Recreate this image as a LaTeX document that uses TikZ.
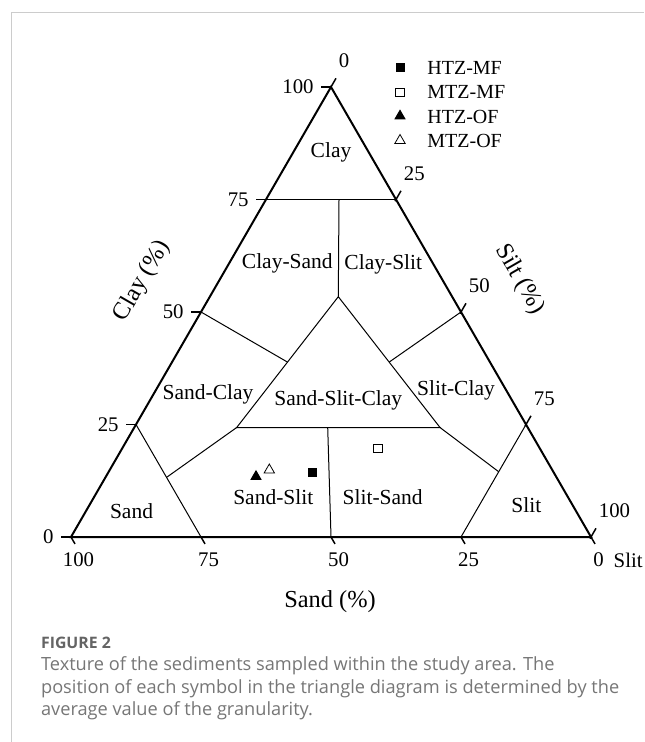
\documentclass[tikz,border=0pt]{standalone}
\usepackage{fontspec}
\setmainfont{Liberation Serif}
\newfontfamily\capsans{Open Sans}
\usetikzlibrary{calc,shapes.geometric}
\definecolor{framegray}{RGB}{204,204,204}
\definecolor{capgray}{RGB}{118,118,118}
\definecolor{figgray}{RGB}{100,100,100}
\tikzstyle{side} = [line width=1pt]
\tikzstyle{border} = [line width=0.5pt]
\tikzstyle{tickmark} = [line width=0.75pt]
\tikzstyle{zone} = [font=\fontsize{10.75}{12}\selectfont, inner sep=0pt]
\tikzstyle{ticklabel} = [font=\fontsize{10.4}{12}\selectfont, inner sep=0pt]
\tikzstyle{legendtext} = [font=\fontsize{10}{12}\selectfont, inner sep=0pt, anchor=west]
\tikzstyle{axistitle} = [font=\fontsize{12.2}{14}\selectfont, inner sep=0pt]
\tikzstyle{fullsq} = [rectangle, fill=black, minimum size=4.5pt, inner sep=0pt]
\tikzstyle{opensq} = [rectangle, draw=black, fill=white, line width=0.4pt, minimum size=4.2pt, inner sep=0pt]
\tikzstyle{fulltri} = [regular polygon, regular polygon sides=3, fill=black, minimum size=6.6pt, inner sep=0pt]
\tikzstyle{opentri} = [regular polygon, regular polygon sides=3, draw=black, line width=0.4pt, minimum size=6pt, inner sep=0pt]
\tikzstyle{captext} = [font=\capsans\fontsize{9.1}{11}\selectfont, text=capgray, inner sep=0pt, anchor=base west]

\begin{document}
\begin{tikzpicture}[x=0.5pt, y=-0.5pt]
\useasboundingbox (0,0) rectangle (644,742);
% Frame
\draw[framegray, line width=0.6pt] (11.7,742) -- (11.7,12.3) -- (644,12.3);

% Corners
\coordinate (A) at (71,537);
\coordinate (B) at (591,537);
\coordinate (C) at (331,87);
\draw[side] (A) -- (B) -- (C) -- cycle;

% Ticks and scale labels
\foreach \v in {0,25,50,75,100} {
  \pgfmathsetmacro\f{\v/100}
  \coordinate (l\v) at ($(A)!\f!(C)$);
  \coordinate (r\v) at ($(C)!\f!(B)$);
  \coordinate (b\v) at ($(B)!\f!(A)$);
  \draw[tickmark] (l\v) -- ++(-10,0);
  \draw[tickmark] ($(r\v)+(-1,1.7)$) -- ++(6,-10.4);
  \draw[tickmark] (b\v) -- ++(4,6.9);
  \node[ticklabel, anchor=east] (lt\v) at ($(l\v)+(-17,0)$) {\v};
  \node[ticklabel, anchor=west] (rt\v) at ($(r\v)+(7.5,-26)$) {\v};
  \node[ticklabel] (bt\v) at ($(b\v)+(7.5,23)$) {\v};
}

% Class boundaries
\coordinate (T) at (339,199.5);
\coordinate (P) at (338.3,296.7);
\coordinate (Q) at (236.7,427.5);
\coordinate (R) at (440,427.5);
\coordinate (S) at (327.7,427.5);
\draw[border] (l75) -- (r25);
\draw[border] (T) -- (P);
\draw[border] (P) -- (Q) -- (R) -- cycle;
\draw[border] (l50) -- ($(P)!0.5!(Q)$);
\draw[border] (r50) -- ($(P)!0.5!(R)$);
\draw[border] (l25) -- (b75);
\draw[border] (r75) -- (b25);
\draw[border] (Q) -- ($(l25)!0.47!(b75)$);
\draw[border] (R) -- ($(b25)!0.58!(r75)$);
\draw[border] (S) -- (b50);

% Class names
\node[zone] (clay) at (331,152) {Clay};
\node[zone] (claysand) at (287.3,263.3) {Clay-Sand};
\node[zone] (clayslit) at (383.3,264) {Clay-Slit};
\node[zone] (sandclay) at (208,394) {Sand-Clay};
\node[zone] (mixed) at (338.3,400) {Sand-Slit-Clay};
\node[zone] (slitclay) at (456,390) {Slit-Clay};
\node[zone] (sand) at (131.5,511) {Sand};
\node[zone] (sandslit) at (273.3,496.7) {Sand-Slit};
\node[zone] (slitsand) at (382.7,496.7) {Slit-Sand};
\node[zone] (slit) at (526.3,505) {Slit};

% Axis titles
\node[axistitle, rotate=60] (claytitle) at (142,281) {Clay (\%)};
\node[axistitle, rotate=-60] (silttitle) at (519.5,279.5) {Silt (\%)};
\node[axistitle] (sandtitle) at (330,601.7) {Sand (\%)};
\node[ticklabel, anchor=west] (slitend) at (613.3,560) {Slit};

% Samples
\node[fulltri] (htzof) at (256,476.5) {};
\node[opentri] (mtzof) at (269.3,470) {};
\node[fullsq] (htzmf) at (312.3,472.3) {};
\node[opensq] (mtzmf) at (377.7,448.3) {};

% Legend
\node[fullsq] (key1) at (400,68) {};
\node[opensq] (key2) at (400,92.3) {};
\node[fulltri] (key3) at (400,116) {};
\node[opentri] (key4) at (400,140.5) {};
\node[legendtext] (txt1) at (427,68) {HTZ-MF};
\node[legendtext] (txt2) at (427,92.3) {MTZ-MF};
\node[legendtext] (txt3) at (427,116.6) {HTZ-OF};
\node[legendtext] (txt4) at (427,141) {MTZ-OF};

% Caption
\node[captext, font=\capsans\bfseries\fontsize{7.9}{10}\selectfont, text=figgray] (fig) at (40.7,648.3) {FIGURE 2};
\node[captext] (cap1) at (40.7,670.7) {Texture of the sediments sampled within the study area. The};
\node[captext] (cap2) at (40.7,693.3) {position of each symbol in the triangle diagram is determined by the};
\node[captext] (cap3) at (40.7,715.7) {average value of the granularity.};
\end{tikzpicture}
\end{document}
